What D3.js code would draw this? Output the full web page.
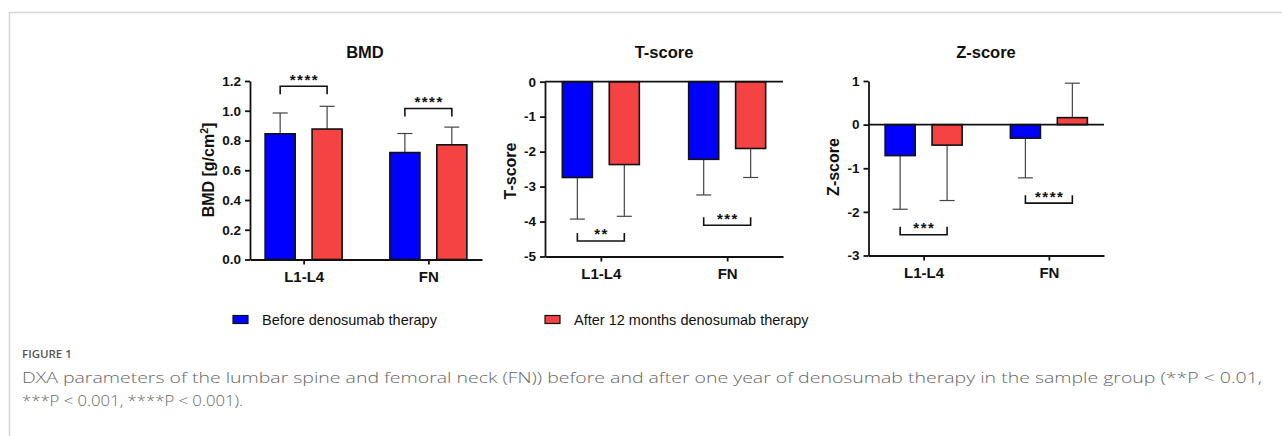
<!DOCTYPE html>
<html>
<head>
<meta charset="utf-8">
<script src="https://cdn.jsdelivr.net/npm/d3@7"></script>
<style>
  html, body { margin: 0; padding: 0; background: #fff; }
  svg { display: block; }
  .axis path, .axis line { stroke: #111; stroke-width: 1.8px; }
  .axis text { font-family: Arial, "Liberation Sans", sans-serif; font-weight: bold; fill: #111; }
</style>
</head>
<body>
<svg id="fig" width="1282" height="436"></svg>
<script>
// Sites and series
const sites = ["L1-L4", "FN"];
const seriesNames = ["Before denosumab therapy", "After 12 months denosumab therapy"];
const seriesColors = ["#0000ff", "#f54242"];

// BMD [g/cm2]: means and upper error ends, [before, after] per site
const bmdMean = [[0.845, 0.877], [0.719, 0.771]];
const bmdErr  = [[0.985, 1.030], [0.847, 0.890]];
const bmdTicks = [0, 0.2, 0.4, 0.6, 0.8, 1.0, 1.2];
const bmdSig = [{ site: "L1-L4", level: 1.165, label: "****" }, { site: "FN", level: 1.015, label: "****" }];

// T-score
const tMean = [[-2.74, -2.37], [-2.22, -1.91]];
const tErr  = [[-3.93, -3.85], [-3.24, -2.74]];
const tTicks = [0, -1, -2, -3, -4, -5];
const tSig = [{ site: "L1-L4", level: -4.555, label: "**" }, { site: "FN", level: -4.105, label: "***" }];

// Z-score
const zMean = [[-0.71, -0.47], [-0.31, 0.16]];
const zErr  = [[-1.94, -1.74], [-1.22, 0.95]];
const zTicks = [1, 0, -1, -2, -3];
const zSig = [{ site: "L1-L4", level: -2.525, label: "***" }, { site: "FN", level: -1.80, label: "****" }];

const svg = d3.select("#fig");
const FONT = 'Arial, "Liberation Sans", sans-serif';

// figure frame
svg.append("line").attr("x1", 9).attr("x2", 1282).attr("y1", 12.5).attr("y2", 12.5)
  .attr("stroke", "#d6d6d6").attr("stroke-width", 1.5);
svg.append("line").attr("x1", 9.5).attr("x2", 9.5).attr("y1", 12).attr("y2", 436)
  .attr("stroke", "#d6d6d6").attr("stroke-width", 1.5);

function panel(opt) {
  const g = svg.append("g");
  const x = d3.scalePoint().domain(sites).range([opt.x0, opt.x1]).padding(opt.pad);
  const inner = d3.scaleBand().domain(seriesNames).range([-38.5, 38.5]).paddingInner(0.36).paddingOuter(0);
  const y = d3.scaleLinear().domain(opt.domain).range([opt.yBottom, opt.yTop]);
  const bw = inner.bandwidth();

  // title
  g.append("text").attr("x", opt.titleX).attr("y", 58).attr("text-anchor", "middle")
    .style("font-family", FONT).style("font-weight", "bold").style("font-size", "16.5px").attr("fill", "#111")
    .text(opt.title);

  // y label
  const yl = g.append("text")
    .attr("transform", `translate(${opt.labelX},${opt.labelY}) rotate(-90)`)
    .attr("text-anchor", "middle")
    .style("font-family", FONT).style("font-weight", "bold").style("font-size", "16px").attr("fill", "#111");
  if (opt.labelParts) {
    yl.append("tspan").text(opt.labelParts[0]);
    yl.append("tspan").attr("dy", -6).style("font-size", "10.5px").text(opt.labelParts[1]);
    yl.append("tspan").attr("dy", 6).text(opt.labelParts[2]);
  } else {
    yl.text(opt.label);
  }

  // bars with error bars
  const rows = [];
  sites.forEach((s, i) => seriesNames.forEach((n, j) => rows.push({
    site: s, series: n, j: j, mean: opt.mean[i][j], err: opt.err[i][j]
  })));

  const bar = g.selectAll(".bar").data(rows).enter().append("g");
  // error bar (one-sided, away from zero)
  bar.append("line")
    .attr("x1", d => x(d.site) + inner(d.series) + bw / 2)
    .attr("x2", d => x(d.site) + inner(d.series) + bw / 2)
    .attr("y1", d => y(d.mean)).attr("y2", d => y(d.err))
    .attr("stroke", "#444").attr("stroke-width", 1.2);
  bar.append("line")
    .attr("x1", d => x(d.site) + inner(d.series) + bw / 2 - 7.5)
    .attr("x2", d => x(d.site) + inner(d.series) + bw / 2 + 7.5)
    .attr("y1", d => y(d.err)).attr("y2", d => y(d.err))
    .attr("stroke", "#444").attr("stroke-width", 1.2);
  bar.append("rect")
    .attr("x", d => x(d.site) + inner(d.series))
    .attr("width", bw)
    .attr("y", d => Math.min(y(d.mean), y(0)))
    .attr("height", d => Math.abs(y(d.mean) - y(0)))
    .attr("fill", d => seriesColors[d.j])
    .attr("stroke", "#111").attr("stroke-width", 1.6);

  // zero line for signed scores
  if (opt.zeroLine) {
    g.append("line").attr("x1", opt.x0).attr("x2", opt.x1)
      .attr("y1", y(0)).attr("y2", y(0))
      .attr("stroke", "#111").attr("stroke-width", 1.8);
  }

  // axes
  const fmt = opt.fmt || (d => String(d));
  g.append("g").attr("class", "axis")
    .attr("transform", `translate(${opt.x0},0)`)
    .call(d3.axisLeft(y).tickValues(opt.ticks).tickFormat(fmt).tickSize(5).tickSizeOuter(0))
    .call(a => a.selectAll("text").style("font-size", "13.5px").attr("x", -9));
  g.append("g").attr("class", "axis")
    .attr("transform", `translate(0,${opt.yBottom})`)
    .call(d3.axisBottom(x).tickSize(5).tickSizeOuter(0))
    .call(a => a.selectAll("text").style("font-size", "15px").attr("y", 12));

  // significance brackets
  const half = inner.step() / 2;
  opt.sig.forEach(s => {
    const xa = x(s.site) - half, xb = x(s.site) + half;
    const ly = y(s.level);
    const legY = ly + opt.legDir * 8;
    g.append("path")
      .attr("d", `M${xa},${legY}V${ly}H${xb}V${legY}`)
      .attr("fill", "none").attr("stroke", "#111").attr("stroke-width", 1.6);
    g.append("text").attr("x", (xa + xb) / 2 + 0.75).attr("y", ly - 1.5).attr("text-anchor", "middle")
      .attr("letter-spacing", "1.5px")
      .style("font-family", FONT).style("font-weight", "bold").style("font-size", "15px").attr("fill", "#111")
      .text(s.label);
  });
}

panel({
  title: "BMD", titleX: 365, labelParts: ["BMD [g/cm", "2", "]"], labelX: 214, labelY: 170,
  x0: 250, x1: 482, pad: 0.43, domain: [0, 1.2], yBottom: 259.5, yTop: 81,
  ticks: bmdTicks, fmt: d3.format(".1f"), mean: bmdMean, err: bmdErr, sig: bmdSig, legDir: 1, zeroLine: false
});
panel({
  title: "T-score", titleX: 664, label: "T-score", labelX: 516, labelY: 171,
  x0: 545, x1: 783, pad: 0.442, domain: [-5, 0], yBottom: 256.5, yTop: 81.7,
  ticks: tTicks, mean: tMean, err: tErr, sig: tSig, legDir: -1, zeroLine: true
});
panel({
  title: "Z-score", titleX: 986, label: "Z-score", labelX: 839, labelY: 167,
  x0: 868.5, x1: 1104, pad: 0.44, domain: [-3, 1], yBottom: 255.5, yTop: 81,
  ticks: zTicks, mean: zMean, err: zErr, sig: zSig, legDir: -1, zeroLine: true
});

// legend
const legendX = [233, 545];
const legend = svg.selectAll(".legend").data(seriesNames).enter().append("g")
  .attr("transform", (d, i) => `translate(${legendX[i]},315.5)`);
legend.append("rect").attr("width", 15).attr("height", 8)
  .attr("fill", (d, i) => seriesColors[i]).attr("stroke", "#111").attr("stroke-width", 1.2);
legend.append("text").attr("x", 29).attr("y", 9.5)
  .style("font-family", FONT).style("font-size", "14.5px").attr("fill", "#111")
  .text(d => d);

// caption
const CAP = '"Open Sans", "Noto Sans", sans-serif';
const capX = 22;
svg.append("text").attr("x", capX).attr("y", 358)
  .style("font-family", CAP).style("font-weight", "600").style("font-size", "11.5px")
  .attr("fill", "#555").text("FIGURE 1");
const captionLines = [
  "DXA parameters of the lumbar spine and femoral neck (FN)) before and after one year of denosumab therapy in the sample group (**P < 0.01,",
  "***P < 0.001, ****P < 0.001)."
];
// set widths of the two caption lines (the caption face runs wider than Open Sans)
const captionWidths = [1240, 221];
svg.append("text").attr("x", capX).attr("y", 383)
  .style("font-family", CAP).style("font-weight", "300").style("font-size", "14px").attr("fill", "#666")
  .selectAll("tspan").data(captionLines).enter().append("tspan")
  .attr("x", capX).attr("dy", (d, i) => i === 0 ? 0 : 23)
  .attr("textLength", (d, i) => captionWidths[i]).attr("lengthAdjust", "spacingAndGlyphs")
  .text(d => d);
</script>
</body>
</html>
